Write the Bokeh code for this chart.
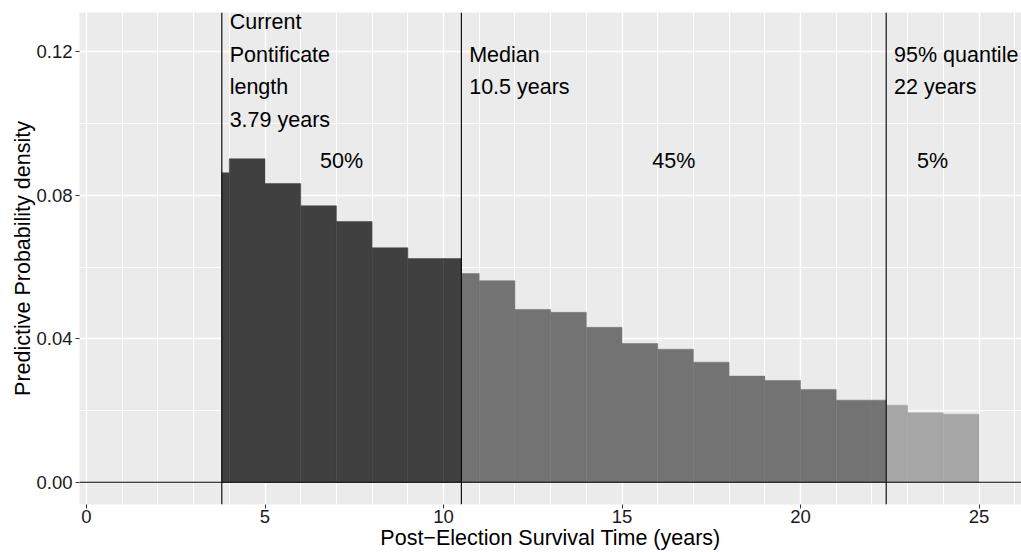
from bokeh.plotting import figure
from bokeh.models import FixedTicker, NumeralTickFormatter, Span, ColumnDataSource
from bokeh.core.properties import value
from bokeh.embed import file_html
from bokeh.resources import INLINE

# ---- data ----
bin_left = [3.79, 4, 5, 6, 7, 8, 9, 10,
            10.5, 11, 12, 13, 14, 15, 16, 17, 18, 19, 20, 21, 22,
            22.4, 23, 24]
bin_right = [4, 5, 6, 7, 8, 9, 10, 10.5,
             11, 12, 13, 14, 15, 16, 17, 18, 19, 20, 21, 22, 22.4,
             23, 24, 25]
density = [0.0863, 0.0902, 0.0833, 0.0771, 0.0727, 0.0654, 0.0624, 0.0624,
           0.0582, 0.0562, 0.0482, 0.0474, 0.0432, 0.0387, 0.0371, 0.0335, 0.0296, 0.0284, 0.0259, 0.0229, 0.0229,
           0.0215, 0.0194, 0.0190]
region = ["50%"] * 8 + ["45%"] * 13 + ["5%"] * 3

boundaries = [3.79, 10.5, 22.4, 25]
boundary_labels = ["Current\nPontificate\nlength\n3.79 years", "Median\n10.5 years", "95% quantile\n22 years"]
share_labels = ["50%", "45%", "5%"]

x_ticks = [0, 5, 10, 15, 20, 25]
y_ticks = [0.00, 0.04, 0.08, 0.12]

region_colors = {"50%": "#404040", "45%": "#737373", "5%": "#A6A6A6"}
FONT = "Liberation Sans"

p = figure(width=1021, height=552, output_backend="svg", toolbar_location=None,
           x_range=(-0.196, 26.19), y_range=(-0.0062, 0.1310),
           min_border_left=79, min_border_right=0, min_border_top=12, min_border_bottom=46)

p.background_fill_color = "#EBEBEB"
p.border_fill_color = "white"
p.outline_line_color = None

# grid
p.xaxis.ticker = FixedTicker(ticks=x_ticks, minor_ticks=list(range(0, 27)))
p.yaxis.ticker = FixedTicker(ticks=y_ticks, minor_ticks=[0.02, 0.06, 0.10])
for g in (p.xgrid, p.ygrid):
    g.grid_line_color = "white"
    g.grid_line_width = 1.4
    g.minor_grid_line_color = "white"
    g.minor_grid_line_width = 0.9

# bars
src = ColumnDataSource(dict(left=bin_left, right=bin_right, top=density,
                            color=[region_colors[r] for r in region]))
p.quad(left="left", right="right", top="top", bottom=0, fill_color="color",
       line_color="color", line_width=0.5, source=src)

# reference lines
for b in boundaries[:3]:
    p.add_layout(Span(location=b, dimension="height", line_color="black", line_width=1.1))
p.add_layout(Span(location=0, dimension="width", line_color="black", line_width=1.1))

# annotations
p.text(x=[b + 0.22 for b in boundaries[:3]], y=[0.1147] * 3, text=boundary_labels,
       text_font=value(FONT), text_font_size="21.5px", text_color="black",
       text_align="left", text_baseline="middle", text_line_height=1.36)
mids = [(boundaries[i] + boundaries[i + 1]) / 2 for i in range(3)]
p.text(x=mids, y=[0.0895] * 3, text=share_labels,
       text_font=value(FONT), text_font_size="21.5px", text_color="black",
       text_align="center", text_baseline="middle")

# axes
p.yaxis.formatter = NumeralTickFormatter(format="0.00")
for ax in (p.xaxis, p.yaxis):
    ax.axis_line_color = None
    ax.major_tick_line_color = "#333333"
    ax.major_tick_in = 0
    ax.major_tick_out = 4
    ax.minor_tick_line_color = None
    ax.major_label_text_font = FONT
    ax.major_label_text_font_size = "18.5px"
    ax.major_label_text_color = "#1A1A1A"
    ax.axis_label_text_font = FONT
    ax.axis_label_text_font_size = "21.5px"
    ax.axis_label_text_font_style = "normal"
    ax.axis_label_text_color = "black"
p.xaxis.axis_label = "Post\u2212Election Survival Time (years)"
p.yaxis.axis_label = "Predictive Probability density"
p.xaxis.major_label_standoff = 1
p.xaxis.axis_label_standoff = 0
p.yaxis.major_label_standoff = 3
p.yaxis.axis_label_standoff = -2

open("out.html", "w").write(file_html(p, INLINE))
